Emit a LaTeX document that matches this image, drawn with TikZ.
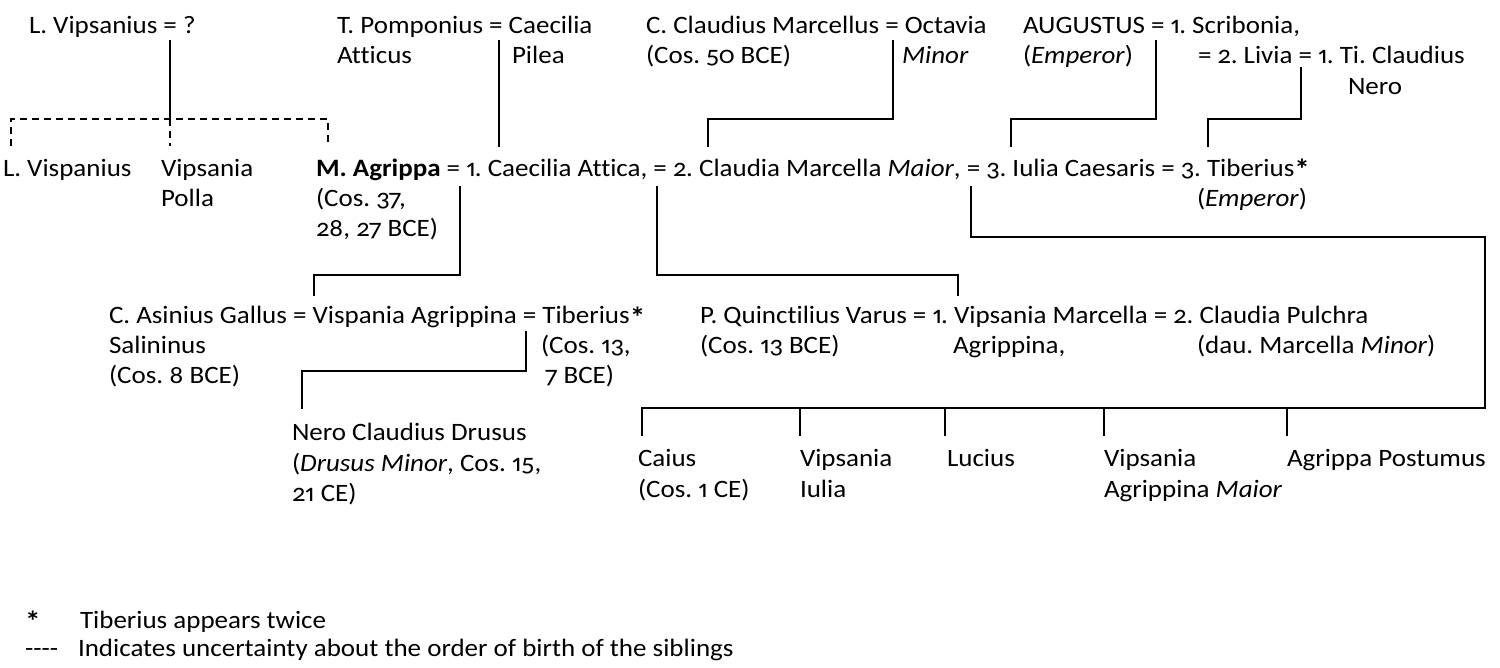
\documentclass[tikz,border=0pt]{standalone}
\usepackage{fontspec}
\setmainfont{Carlito}[Numbers={OldStyle,Proportional}, Ligatures={TeX,NoCommon}, FakeStretch=1.08]
\newcommand\fsz{\fontsize{25}{30}\selectfont\frenchspacing}
\newcommand\myast{{\bfseries\raisebox{-0.12em}{\scalebox{1.15}{*}}}}
\begin{document}
\begin{tikzpicture}[x=1pt,y=-1pt,
  txt/.style={anchor=base west, inner sep=0pt, outer sep=0pt, font=\fsz},
  ln/.style={line width=1.4pt, line cap=rect},
  dsh/.style={line width=1.4pt, dash pattern=on 7pt off 5pt}]
\useasboundingbox[fill=white] (0,0) rectangle (1500,668);
% ---- row 1
\node[txt] (vip) at (29,34) {L. Vipsanius = ?};
\node[txt] (pomA) at (337,34) {T. Pomponius = Caecilia};
\node[txt] (pomB) at (337,64) {Atticus};
\node[txt] (pomC) at (512,64) {Pilea};
\node[txt] (marA) at (646,34) {C. Claudius Marcellus = Octavia};
\node[txt] (marB) at (646,64) {(Cos. 50 BCE)};
\node[txt] (marC) at (902,64) {\textit{Minor}};
\node[txt] (augA) at (1023,34) {AUGUSTUS = 1. Scribonia,};
\node[txt] (augB) at (1023,64) {(\textit{Emperor})};
\node[txt] (augC) at (1198,64) {= 2. Livia = 1. Ti. Claudius};
\node[txt] (augD) at (1348,95) {Nero};
% ---- row 2
\node[txt] (lvis) at (3,177) {L. Vispanius};
\node[txt] (vpA) at (161,177) {Vipsania};
\node[txt] (vpB) at (161,207) {Polla};
\node[txt] (agrA) at (316,177) {\textbf{M. Agrippa} = 1. Caecilia Attica, = 2. Claudia Marcella \textit{Maior}, = 3. Iulia Caesaris = 3. Tiberius\myast};
\node[txt] (agrB) at (316,207) {(Cos. 37,};
\node[txt] (agrC) at (316,237) {28, 27 BCE)};
\node[txt] (tibE) at (1197,207) {(\textit{Emperor})};
% ---- row 3
\node[txt] (asiA) at (109,324) {C. Asinius Gallus = Vispania Agrippina = Tiberius\myast};
\node[txt] (asiB) at (109,354) {Salininus};
\node[txt] (asiC) at (109,384) {(Cos. 8 BCE)};
\node[txt] (tibA) at (541,354) {(Cos. 13,};
\node[txt] (tibB) at (545,384) {7 BCE)};
\node[txt] (varA) at (700,324) {P. Quinctilius Varus = 1. Vipsania Marcella = 2. Claudia Pulchra};
\node[txt] (varB) at (700,354) {(Cos. 13 BCE)};
\node[txt] (varC) at (953,354) {Agrippina,};
\node[txt] (varD) at (1197,354) {(dau. Marcella \textit{Minor})};
% ---- row 4
\node[txt] (druA) at (292,440) {Nero Claudius Drusus};
\node[txt] (druB) at (292,471) {(\textit{Drusus Minor}, Cos. 15,};
\node[txt] (druC) at (292,501) {21 CE)};
\node[txt] (caiA) at (638,466) {Caius};
\node[txt] (caiB) at (638,497) {(Cos. 1 CE)};
\node[txt] (vjA) at (800,466) {Vipsania};
\node[txt] (vjB) at (800,497) {Iulia};
\node[txt] (luc) at (947,466) {Lucius};
\node[txt] (vmA) at (1104,466) {Vipsania};
\node[txt] (vmB) at (1104,497) {Agrippina \textit{Maior}};
\node[txt] (pos) at (1287,466) {Agrippa Postumus};
% ---- legend
\node[txt] (lgA) at (25,628) {\myast};
\node[txt] (lgB) at (80,628) {Tiberius appears twice};
\node[txt] (lgC) at (25,656) {{-}{-}{-}{-}};
\node[txt] (lgD) at (78,656) {Indicates uncertainty about the order of birth of the siblings};
% ---- junction coordinates
\coordinate (c1t) at (170,41);  \coordinate (c1m) at (170,119);
\coordinate (c1l) at (11,119);  \coordinate (c1lb) at (11,146);
\coordinate (c1r) at (328,119); \coordinate (c1rb) at (328,146);
\coordinate (c1b) at (170,146);
\coordinate (c2t) at (499,41);  \coordinate (c2b) at (499,146);
\coordinate (c3t) at (893,41);  \coordinate (c3m) at (893,119);
\coordinate (c3n) at (708,119); \coordinate (c3b) at (708,146);
\coordinate (c4t) at (1156,41); \coordinate (c4m) at (1156,119);
\coordinate (c4n) at (1011,119);\coordinate (c4b) at (1011,146);
\coordinate (c5t) at (1301,68); \coordinate (c5m) at (1301,119);
\coordinate (c5n) at (1208,119);\coordinate (c5b) at (1208,146);
\coordinate (c6t) at (460,187); \coordinate (c6m) at (460,275);
\coordinate (c6n) at (314,275); \coordinate (c6b) at (314,295);
\coordinate (c7t) at (657,187); \coordinate (c7m) at (657,275);
\coordinate (c7n) at (958,275); \coordinate (c7b) at (958,295);
\coordinate (c8t) at (971,187); \coordinate (c8m) at (971,237);
\coordinate (c8r) at (1485,237);\coordinate (c8d) at (1485,408);
\coordinate (k1) at (642,408); \coordinate (k1b) at (642,435);
\coordinate (k2) at (800,408); \coordinate (k2b) at (800,435);
\coordinate (k3) at (945,408); \coordinate (k3b) at (945,435);
\coordinate (k4) at (1104,408);\coordinate (k4b) at (1104,435);
\coordinate (k5) at (1287,408);\coordinate (k5b) at (1287,435);
\coordinate (c9t) at (526,332); \coordinate (c9m) at (526,371);
\coordinate (c9n) at (302,371); \coordinate (c9b) at (302,408);
% ---- connectors
\draw[ln] (c1t) -- (c1m);
\draw[dsh] (c1lb) -- (c1l) -- (c1r) -- (c1rb);
\draw[dsh] (c1m) -- (c1b);
\draw[ln] (c2t) -- (c2b);
\draw[ln] (c3t) -- (c3m) -- (c3n) -- (c3b);
\draw[ln] (c4t) -- (c4m) -- (c4n) -- (c4b);
\draw[ln] (c5t) -- (c5m) -- (c5n) -- (c5b);
\draw[ln] (c6t) -- (c6m) -- (c6n) -- (c6b);
\draw[ln] (c7t) -- (c7m) -- (c7n) -- (c7b);
\draw[ln] (c8t) -- (c8m) -- (c8r) -- (c8d) -- (k1) -- (k1b);
\draw[ln] (k2) -- (k2b);
\draw[ln] (k3) -- (k3b);
\draw[ln] (k4) -- (k4b);
\draw[ln] (k5) -- (k5b);
\draw[ln] (c9t) -- (c9m) -- (c9n) -- (c9b);
\end{tikzpicture}
\end{document}
